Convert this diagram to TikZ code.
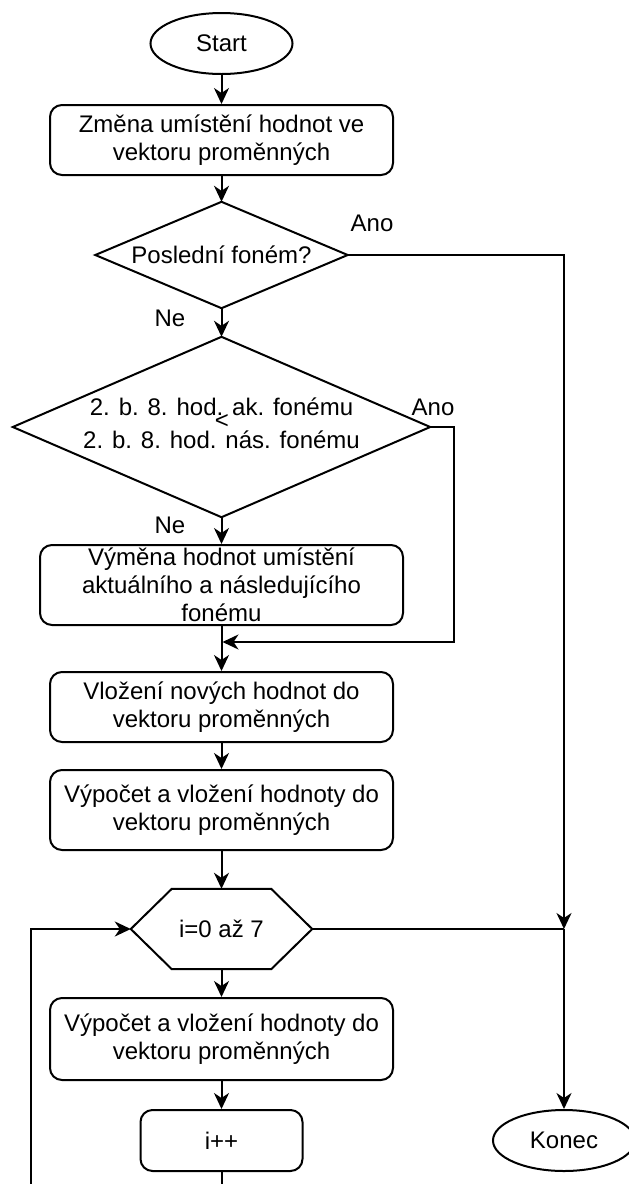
\documentclass[tikz,border=0pt]{standalone}
\usepackage{fontspec}
\setmainfont{Liberation Sans}
\usetikzlibrary{arrows.meta,shapes.geometric,calc}
\begin{document}
\begin{tikzpicture}[x=1pt,y=-1pt,
  every node/.style={font=\fontsize{24}{28}\selectfont, inner sep=0pt, align=center},
  line/.style={line width=2pt, black},
  arr/.style={line, -{Stealth[length=16pt,width=15pt,inset=5pt]}},
  proc/.style={draw, line width=2pt, rounded corners=12pt, minimum width=343pt, minimum height=70pt},
  term/.style={draw, ellipse, line width=2pt, minimum width=142pt, minimum height=61pt},
  frame/.style={minimum width=#1}]
\useasboundingbox (0,0) rectangle (629,1184);
\clip (0,0) rectangle (629,1184);

\node[term] (start) at (221.5,43.5) {Start};
\node[proc] (b1) at (221.5,140) {Změna umístění hodnot ve\\vektoru proměnných};

\node[frame=252pt, minimum height=106pt] (d1) at (221.5,255) {Poslední foném?};
\draw[line] (d1.north) -- (d1.east) -- (d1.south) -- (d1.west) -- cycle;

\node[frame=417pt, minimum height=180pt] (d2) at (221.5,427) {};
\draw[line] (d2.north) -- (d2.east) -- (d2.south) -- (d2.west) -- cycle;
\node[anchor=base] (d2a) at (221.5,415) {2. b. 8. hod. ak. fonému};
\node[anchor=base] (d2lt) at (222,428) {<};
\node[anchor=base] (d2b) at (221.5,448) {2. b. 8. hod. nás. fonému};

\node[proc, minimum width=363pt, minimum height=80pt] (vym) at (221.5,585) {Výměna hodnot umístění\\aktuálního a následujícího\\fonému};
\node[proc] (vlo) at (221.5,707) {Vložení nových hodnot do\\vektoru proměnných};
\node[proc, minimum height=80pt] (vyp1) at (221.5,810) {Výpočet a vložení hodnoty do\\vektoru proměnných};

\node[frame=181pt, minimum height=80pt] (hex) at (221.5,929) {i=0 až 7};
\draw[line] (hex.west) -- ([xshift=41pt]hex.north west) -- ([xshift=-41pt]hex.north east)
  -- (hex.east) -- ([xshift=-41pt]hex.south east) -- ([xshift=41pt]hex.south west) -- cycle;

\node[proc, minimum height=82pt] (vyp2) at (221.5,1039) {Výpočet a vložení hodnoty do\\vektoru proměnných};
\node[proc, minimum width=162pt, minimum height=61pt] (ipp) at (221.5,1140.5) {i++};
\node[term] (konec) at (564,1140.5) {Konec};

\node (ano1) at (372,223) {Ano};
\node (ne1) at (170,318) {Ne};
\node (ano2) at (433,407) {Ano};
\node (ne2) at (170,525) {Ne};

\coordinate (j) at (564,929);
\coordinate (r2) at (454,642);
\coordinate (m) at (222.5,642);
\coordinate (lb) at (31,1200);

\draw[arr] (start.south) -- (b1.north);
\draw[arr] (b1.south) -- (d1.north);
\draw[arr] (d1.south) -- (d2.north);
\draw[arr] (d1.east) -| (j);
\draw[arr] (d2.south) -- (vym.north);
\draw[arr] (d2.east) -| (r2) -- (m);
\draw[arr] (vym.south) -- (vlo.north);
\draw[arr] (vlo.south) -- (vyp1.north);
\draw[arr] (vyp1.south) -- (hex.north);
\draw[line] (hex.east) -- (j);
\draw[arr] (j) -- (konec.north);
\draw[arr] (hex.south) -- (vyp2.north);
\draw[arr] (vyp2.south) -- (ipp.north);
\draw[arr] (ipp.south) |- (lb) |- (hex.west);
\end{tikzpicture}
\end{document}
